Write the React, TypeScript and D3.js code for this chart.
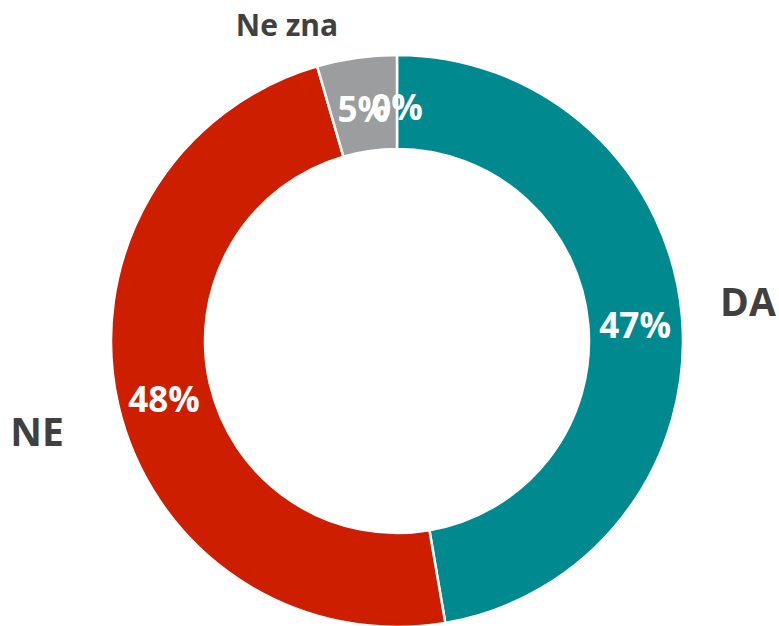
import React, { useEffect, useRef } from 'react'
import * as d3 from 'd3'

const categories = ['DA', 'NE', 'Ne zna', 'Ostalo']
const values = [47.3, 48.2, 4.5, 0]
const valueLabels = ['47%', '48%', '5%', '0%']
const colors = ['#008a90', '#cd1e00', '#9b9d9e', '#5b9bd5']
const showName = [true, true, true, false]

function DonutChart() {
    const ref = useRef<SVGSVGElement>(null)

    useEffect(() => {
        const w = 779, h = 626
        const cx = 397, cy = 341
        const outerRadius = 286
        const innerRadius = 192

        const data = categories.map((c, i) => ({ name: c, value: values[i], label: valueLabels[i], color: colors[i], show: showName[i] }))

        const svg = d3.select(ref.current)
        svg.selectAll('*').remove()
        const g = svg.append('g').attr('transform', 'translate(' + cx + ',' + cy + ')')

        const pie = d3.pie<any>().value(d => d.value).sort(null)
        const arc = d3.arc<any>().outerRadius(outerRadius).innerRadius(innerRadius)
        const arcs = pie(data)

        g.selectAll('path')
            .data(arcs)
            .enter()
            .append('path')
            .attr('d', arc)
            .attr('fill', d => d.data.color)
            .attr('stroke', '#fff')
            .attr('stroke-width', d => (d.endAngle - d.startAngle > 0 ? 2.5 : 0))

        // value labels in the ring
        g.selectAll('text.val')
            .data(arcs)
            .enter()
            .append('text')
            .attr('class', 'val')
            .attr('transform', d => {
                const c = arc.centroid(d)
                return 'translate(' + c[0] + ',' + (c[1] + 4) + ')'
            })
            .attr('text-anchor', 'middle')
            .attr('dominant-baseline', 'central')
            .attr('font-family', '"Open Sans", sans-serif')
            .attr('font-weight', 700)
            .attr('font-size', '35px')
            .attr('fill', '#fff')
            .text(d => d.data.label)

        // category names outside the ring
        const nameOffset: Record<string, [number, number]> = {
            'DA': [351, -41],
            'NE': [-360, 89],
            'Ne zna': [-110, -317],
        }
        const nameSize: Record<string, number> = { 'DA': 39, 'NE': 39, 'Ne zna': 30 }
        g.selectAll('text.name')
            .data(arcs.filter(d => d.data.show))
            .enter()
            .append('text')
            .attr('class', 'name')
            .attr('x', d => nameOffset[d.data.name][0])
            .attr('y', d => nameOffset[d.data.name][1])
            .attr('text-anchor', 'middle')
            .attr('dominant-baseline', 'central')
            .attr('font-family', '"Open Sans", sans-serif')
            .attr('font-weight', 700)
            .attr('font-size', d => nameSize[d.data.name] + 'px')
            .attr('fill', '#404040')
            .text(d => d.data.name)

        svg.attr('width', w).attr('height', h)
    }, [])

    return <svg ref={ref} width={779} height={626} style={{ position: 'absolute', left: 0, top: 0, background: '#fff' }} />
}

export default function App() {
    return <DonutChart />
}
